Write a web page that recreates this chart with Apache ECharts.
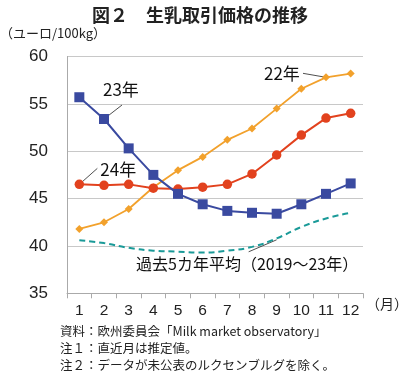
<!DOCTYPE html>
<html><head><meta charset="utf-8">
<script src="https://cdn.jsdelivr.net/npm/echarts@6/dist/echarts.min.js"></script>
<style>html,body{margin:0;padding:0;background:#fff}#c{width:400px;height:379px}</style>
</head><body><div id="c"></div>
<script>
const months = ['1','2','3','4','5','6','7','8','9','10','11','12'];
const y22 = [41.8,42.5,43.9,46.2,48.0,49.4,51.2,52.4,54.5,56.6,57.8,58.2];
const y23 = [55.7,53.4,50.3,47.5,45.5,44.4,43.7,43.5,43.4,44.4,45.5,46.6];
const y24 = [46.5,46.4,46.5,46.1,46.0,46.2,46.5,47.6,49.6,51.7,53.5,54.0];
const avg5 = [40.6,40.3,39.8,39.5,39.4,39.3,39.5,39.9,40.8,42.0,42.9,43.5];
const yTicks = [35,40,45,50,55,60];

const FONT = '"Liberation Sans", Arial, sans-serif';
const JP = '"Noto Sans CJK JP", sans-serif';
const chart = echarts.init(document.getElementById('c'));
chart.setOption({
  animation:false,
  backgroundColor:'#fff',
  grid:{left:67,right:37,top:56.5,bottom:85.7},
  title:{text:'図２　生乳取引価格の推移',left:'center',top:1,
    textStyle:{fontFamily:JP,fontSize:18,fontWeight:'bold',color:'#222'}},
  xAxis:{type:'category',data:months,boundaryGap:true,
    axisLine:{lineStyle:{color:'#aaa'}},
    axisTick:{show:true,length:5,lineStyle:{color:'#aaa'}},
    axisLabel:{color:'#222',fontSize:15.5,fontFamily:FONT,margin:9}},
  yAxis:{type:'value',min:yTicks[0],max:yTicks[yTicks.length-1],interval:5,
    axisLine:{show:true,lineStyle:{color:'#aaa'}},
    axisTick:{show:false},
    splitLine:{lineStyle:{color:'#c8c8c8'}},
    axisLabel:{color:'#222',fontSize:17,fontFamily:FONT,margin:19}},
  series:[
    {name:'5yr',type:'line',data:avg5,smooth:true,symbol:'none',z:1,
      lineStyle:{color:'#1a9a98',width:2,type:[6,4]}},
    {name:'22',type:'line',data:y22,symbol:'diamond',symbolSize:8,
      lineStyle:{color:'#f2a12c',width:1.8},itemStyle:{color:'#f2a12c'}},
    {name:'24',type:'line',data:y24,symbol:'circle',symbolSize:9.5,
      lineStyle:{color:'#e2421e',width:2},itemStyle:{color:'#e2421e'}},
    {name:'23',type:'line',data:y23,symbol:'rect',symbolSize:10,
      lineStyle:{color:'#3a4aa0',width:2},itemStyle:{color:'#3a4aa0'}}
  ]
});

function px(i,v){return chart.convertToPixel({gridIndex:0},[i,v]);}
const p23 = px(1,y23[1]);
const p24 = px(0,y24[0]);
const p22 = px(10,y22[10]);
const pav = px(8,avg5[8]-0.15);
const txt = {fontFamily:JP,fontSize:17,fill:'#111'};
const small = {fontFamily:JP,fontSize:12.5,fill:'#222'};
chart.setOption({graphic:[
  {type:'text',left:0,top:27,style:Object.assign({},small,{text:'（ユーロ/100kg）',fontSize:13})},
  {type:'text',x:p23[0]-1,y:p23[1]-38,style:Object.assign({},txt,{text:'23年'})},
  {type:'line',shape:{x1:p23[0]+18,y1:p23[1]-14,x2:p23[0],y2:p23[1]},style:{stroke:'#222',lineWidth:0.8}},
  {type:'text',x:p24[0]+21,y:p24[1]-23,style:Object.assign({},txt,{text:'24年'})},
  {type:'line',shape:{x1:p24[0]+18,y1:p24[1]-16,x2:p24[0],y2:p24[1]},style:{stroke:'#222',lineWidth:0.8}},
  {type:'text',x:p22[0]-62,y:p22[1]-12,style:Object.assign({},txt,{text:'22年'})},
  {type:'line',shape:{x1:p22[0]-23,y1:p22[1]-4,x2:p22[0],y2:p22[1]},style:{stroke:'#222',lineWidth:0.8}},
  {type:'text',x:136,y:pav[1]+16,style:Object.assign({},txt,{text:'過去5カ年平均（2019～23年）',fontSize:16})},
  {type:'line',shape:{x1:pav[0]-28,y1:pav[1]+12,x2:pav[0],y2:pav[1]},style:{stroke:'#222',lineWidth:0.8}},
  {type:'text',x:366,y:297,style:Object.assign({},small,{text:'（月）',fontSize:14})},
  {type:'text',x:60,y:325,style:Object.assign({},small,{text:'資料：欧州委員会「Milk market observatory」'})},
  {type:'text',x:60,y:342,style:Object.assign({},small,{text:'注１：直近月は推定値。'})},
  {type:'text',x:60,y:359,style:Object.assign({},small,{text:'注２：データが未公表のルクセンブルグを除く。'})}
]});
</script></body></html>
